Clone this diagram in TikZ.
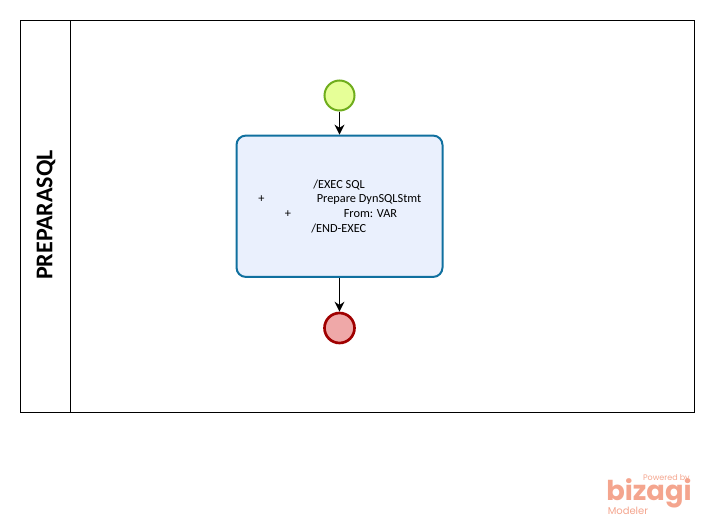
\documentclass[tikz,border=0pt]{standalone}
\usepackage{fontspec}
\setmainfont{Carlito}
\newfontfamily\logofont{Poppins}
\usetikzlibrary{arrows.meta}
\definecolor{startfill}{HTML}{E6FF97}
\definecolor{startline}{HTML}{6FAD1C}
\definecolor{taskfill}{HTML}{EAF0FD}
\definecolor{taskline}{HTML}{10709F}
\definecolor{endfill}{HTML}{EFA8A8}
\definecolor{endline}{HTML}{A00000}
\definecolor{logo}{HTML}{F4A58E}
\tikzset{
    event/.style={circle,inner sep=0pt,minimum size=22.5pt},
    codeline/.style={anchor=west,inner sep=0pt,font=\fontsize{9.25}{9.25}\selectfont},
    flow/.style={-{Stealth[length=7.5pt,width=7.5pt]},line width=0.9pt},
}
\begin{document}
\begin{tikzpicture}[x=0.75pt,y=-0.75pt]
    \useasboundingbox (0,0) rectangle (714,525);

    % The lane
    \node[draw=black,line width=0.75pt,inner sep=0pt,minimum width=505.5pt,minimum height=294pt] (lane) at (357.5,216.5) {};
    \node[draw=black,line width=0.75pt,inner sep=0pt,minimum width=37.5pt,minimum height=294pt] (head) at (45.5,216.5) {};
    \node[rotate=90,inner sep=0pt,font=\fontsize{18}{18}\bfseries\selectfont] (title) at (46,215) {PREPARASQL};

    % The events and the task
    \node[event,draw=startline,fill=startfill,line width=1.5pt] (start) at (339.5,95.5) {};
    \node[draw=taskline,fill=taskfill,line width=1.5pt,rounded corners=7pt,inner sep=0pt,minimum width=154.5pt,minimum height=106pt] (task) at (339.5,206.25) {};
    \node[event,draw=endline,fill=endfill,line width=2pt] (end) at (339.5,328) {};

    % The text of the task
    \node[codeline] (l1) at (313,185) {/EXEC SQL};
    \node[codeline] (p1) at (258,199.5) {+};
    \node[codeline] (l2) at (316.5,199.5) {Prepare DynSQLStmt};
    \node[codeline] (p2) at (284.5,214) {+};
    \node[codeline] (l3) at (343.5,214) {From: VAR};
    \node[codeline] (l4) at (311,228.5) {/END-EXEC};

    % The lines!
    \draw[flow] (start) -- (task);
    \draw[flow] (task) -- (end);

    % The logo
    \node[text=logo,anchor=base east,inner sep=0pt,font=\logofont\fontsize{6}{6}\selectfont] (powered) at (690,480) {Powered by};
    \node[text=logo,anchor=base west,inner sep=0pt,font=\logofont\bfseries\fontsize{20.5}{20.5}\selectfont] (bizagi) at (606,500) {bizagi};
    \node[text=logo,anchor=base west,inner sep=0pt,font=\logofont\fontsize{7.5}{7.5}\selectfont] (modeler) at (607.5,514.5) {Modeler};
\end{tikzpicture}
\end{document}
